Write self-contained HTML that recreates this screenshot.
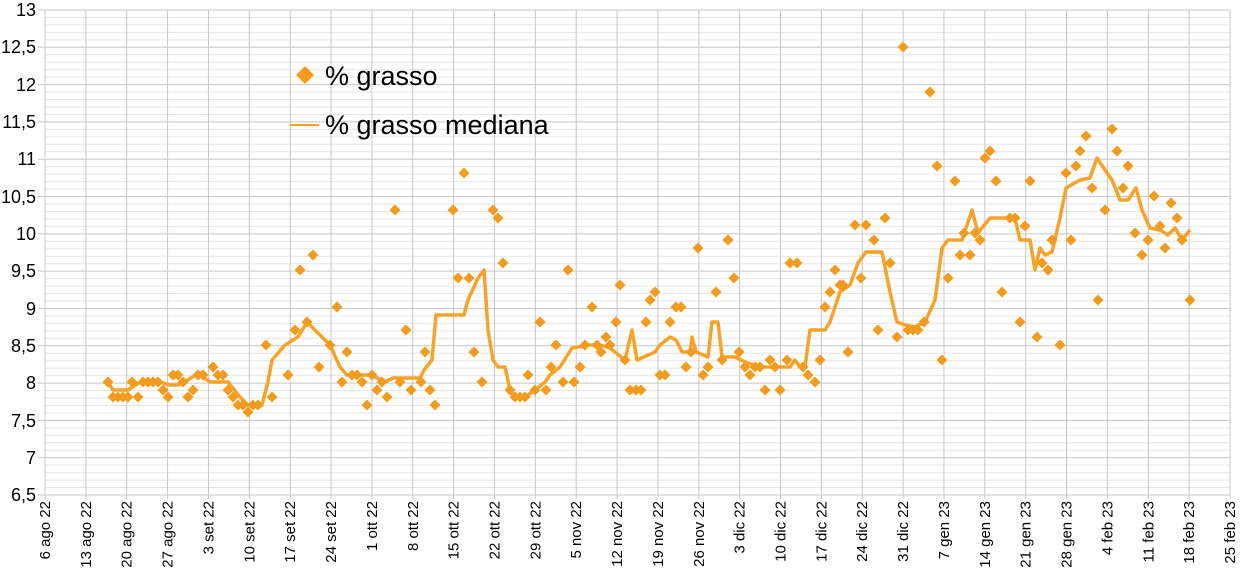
<!DOCTYPE html>
<html><head><meta charset="utf-8"><style>
body{margin:0;background:#fff;}
svg{display:block;font-family:"Liberation Sans",sans-serif;}
</style></head><body>
<svg id="s" width="1245" height="579" xmlns="http://www.w3.org/2000/svg">
<g id="grid"></g>
<g font-size="18" text-anchor="end" fill="#000">
<text x="36" y="16">13</text><text x="36" y="53">12,5</text><text x="36" y="91">12</text><text x="36" y="128">11,5</text><text x="36" y="165">11</text><text x="36" y="203">10,5</text><text x="36" y="240">10</text><text x="36" y="277">9,5</text><text x="36" y="315">9</text><text x="36" y="352">8,5</text><text x="36" y="389">8</text><text x="36" y="427">7,5</text><text x="36" y="464">7</text><text x="36" y="501">6,5</text>
</g>
<g id="xl" font-size="15" text-anchor="end" fill="#000"></g>
<polyline id="med" fill="none" stroke="#f7a32a" stroke-width="3.5" stroke-linejoin="round"></polyline>
<g id="pts" fill="#f29b1d"></g>
<polygon points="305,66 314,75 305,84 296,75" fill="#f29b1d"/>
<line x1="290" y1="125" x2="319" y2="125" stroke="#f7a32a" stroke-width="2"/>
<text x="325" y="85" font-size="27">% grasso</text>
<text x="325" y="134" font-size="27">% grasso mediana</text>
</svg>
<script>
var g=document.getElementById("grid"),h="";
var L=45,R=1230,T=10,B=495;
for(var i=0;i<=65;i++){var y=T+(B-T)*i/65;var maj=i%5==0;h+='<line x1="'+(maj?38:L)+'" x2="'+R+'" y1="'+y+'" y2="'+y+'" stroke="'+(maj?'#c8c8c8':'#e6e6e6')+'" stroke-width="1"/>';}
for(var i=0;i<=29;i++){var x=L+(R-L)*i/29;h+='<line x1="'+x+'" x2="'+x+'" y1="'+T+'" y2="'+(B+4)+'" stroke="#c8c8c8" stroke-width="1"/>';}
g.innerHTML=h;
var labs=["6 ago 22","13 ago 22","20 ago 22","27 ago 22","3 set 22","10 set 22","17 set 22","24 set 22","1 ott 22","8 ott 22","15 ott 22","22 ott 22","29 ott 22","5 nov 22","12 nov 22","19 nov 22","26 nov 22","3 dic 22","10 dic 22","17 dic 22","24 dic 22","31 dic 22","7 gen 23","14 gen 23","21 gen 23","28 gen 23","4 feb 23","11 feb 23","18 feb 23","25 feb 23"];
var xh="";labs.forEach(function(t,i){var x=L+(R-L)*i/29+5;xh+='<text transform="translate('+x+',501) rotate(-90)">'+t+'</text>';});
document.getElementById("xl").innerHTML=xh;
var P=[108,382,113,397,118,397,123,397,128,397,132,382,138,397,143,382,148,382,153,382,158,382,163,390,168,397,173,375,178,375,183,382,188,397,193,390,198,375,203,375,213,367,218,375,223,375,228,390,233,397,238,405,243,405,248,412,253,405,258,405,266,345,272,397,288,375,295,330,300,270,307,322,313,255,319,367,330,345,337,307,342,382,347,352,352,375,357,375,362,382,367,405,372,375,377,390,382,382,387,397,395,210,400,382,406,330,411,390,421,382,425,352,430,390,435,405,453,210,458,278,464,173,469,278,474,352,482,382,493,210,498,218,503,263,510,390,515,397,520,397,525,397,528,375,535,390,540,322,546,390,551,367,556,345,563,382,568,270,574,382,580,367,585,345,592,307,597,345,601,352,606,337,610,345,616,322,620,285,625,360,630,390,636,390,641,390,646,322,650,300,655,292,660,375,665,375,670,322,676,307,681,307,686,367,691,352,698,248,703,375,708,367,716,292,722,360,728,240,734,278,739,352,745,367,750,375,755,367,760,367,765,390,770,360,775,367,780,390,787,360,790,263,797,263,803,367,808,375,815,382,820,360,825,307,830,292,835,270,840,285,843,285,848,352,855,225,861,278,866,225,874,240,878,330,885,218,890,263,897,337,903,47,908,330,913,330,918,330,924,322,930,92,937,166,942,360,948,278,955,181,960,255,964,233,970,255,975,233,980,240,985,158,990,151,996,181,1002,292,1010,218,1015,218,1020,322,1025,226,1030,181,1037,337,1042,263,1048,270,1052,240,1060,345,1066,173,1071,240,1076,166,1080,151,1086,136,1092,188,1098,300,1105,210,1112,129,1117,151,1123,188,1128,166,1135,233,1142,255,1148,240,1154,196,1160,226,1165,248,1171,203,1177,218,1182,240,1190,300];
var ph="";for(var i=0;i<P.length;i+=2){var x=P[i],y=P[i+1];ph+='<polygon points="'+x+','+(y-5.5)+' '+(x+5.5)+','+y+' '+x+','+(y+5.5)+' '+(x-5.5)+','+y+'"/>';}
document.getElementById("pts").innerHTML=ph;
document.getElementById("med").setAttribute("points","108,382 113,390 128,390 140,382 160,382 170,385 178,385 185,382 195,375 200,375 210,382 228,382 240,397 248,405 262,405 268,382 272,360 285,345 298,337 307,322 315,330 330,345 340,367 347,375 372,375 385,382 393,378 420,378 424,370 432,360 436,315 464,315 468,300 478,278 484,270 488,330 493,360 498,367 505,367 510,390 515,397 525,397 535,390 545,382 550,375 560,367 572,348 590,345 600,345 610,348 625,360 632,330 637,360 655,352 660,345 670,337 676,340 682,352 690,352 692,337 696,352 708,357 712,322 718,322 722,357 735,357 745,362 760,367 790,367 795,360 800,367 805,367 810,330 825,330 830,322 840,292 850,285 858,263 866,252 882,252 890,292 897,322 905,325 915,327 925,322 935,300 942,248 948,240 962,240 967,225 972,210 978,233 990,218 1015,218 1020,240 1030,240 1035,270 1040,248 1045,255 1052,252 1060,218 1066,188 1080,180 1090,178 1097,158 1105,170 1112,180 1120,200 1128,200 1136,188 1142,210 1150,228 1160,230 1168,235 1175,228 1182,240 1190,230");
</script>
</body></html>
